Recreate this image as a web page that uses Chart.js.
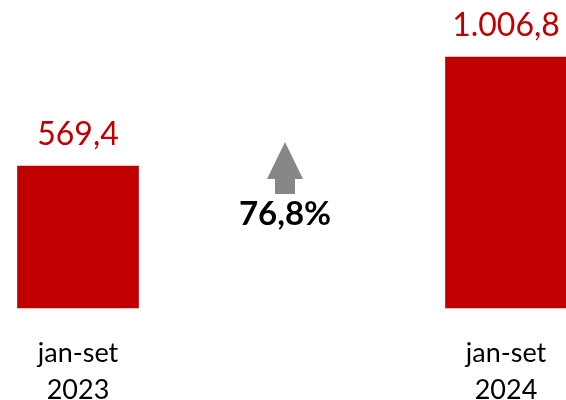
<!DOCTYPE html>
<html><head><meta charset="utf-8">
<script src="https://cdn.jsdelivr.net/npm/chart.js@4.4.1/dist/chart.umd.min.js"></script>
<style>html,body{margin:0;padding:0;background:#fff}#wrap{width:566px;height:400px}</style>
</head><body><div id="wrap"><canvas id="c" width="566" height="400"></canvas></div>
<script>
const categories = [["jan-set", "2023"], ["jan-set", "2024"]];
const values = [569.4, 1006.8];
const valueLabels = ["569,4", "1.006,8"];
const changeLabel = "76,8%";

const RED = "#C00000";

const annotations = {
  id: "annotations",
  afterDatasetsDraw(chart) {
    const ctx = chart.ctx;
    const meta = chart.getDatasetMeta(0);
    ctx.save();
    ctx.fillStyle = RED;
    ctx.font = "32px Lato";
    ctx.textAlign = "center";
    ctx.textBaseline = "alphabetic";
    meta.data.forEach((bar, i) => {
      ctx.fillText(valueLabels[i], bar.x, bar.y - 21);
    });
    // growth arrow between the bars
    const cx = (meta.data[0].x + meta.data[1].x) / 2 - 7;
    const tip = 142, headBase = 179, shaftBottom = 194, headHalf = 18, shaftHalf = 10;
    ctx.fillStyle = "#878787";
    ctx.beginPath();
    ctx.moveTo(cx, tip);
    ctx.lineTo(cx + headHalf, headBase);
    ctx.lineTo(cx + shaftHalf, headBase);
    ctx.lineTo(cx + shaftHalf, shaftBottom);
    ctx.lineTo(cx - shaftHalf, shaftBottom);
    ctx.lineTo(cx - shaftHalf, headBase);
    ctx.lineTo(cx - headHalf, headBase);
    ctx.closePath();
    ctx.fill();
    ctx.fillStyle = "#000";
    ctx.font = "bold 33px Lato";
    ctx.fillText(changeLabel, cx, 225);
    ctx.restore();
  }
};

new Chart(document.getElementById("c"), {
  type: "bar",
  data: {
    labels: categories,
    datasets: [{
      data: values,
      backgroundColor: RED,
      borderWidth: 0,
      barThickness: 121,
      clip: false
    }]
  },
  options: {
    responsive: false,
    animation: false,
    layout: { padding: { left: 78, right: 60, top: 9, bottom: 0 } },
    plugins: { legend: { display: false }, tooltip: { enabled: false } },
    scales: {
      x: {
        offset: false,
        grid: { display: false, drawTicks: false },
        border: { display: false },
        afterFit: (scale) => {
          scale.height = 92;
          scale.paddingLeft = 0;
          scale.paddingRight = 0;
        },
        ticks: {
          color: "#000",
          padding: 27,
          autoSkip: false,
          maxRotation: 0,
          font: { family: "Lato", size: 27, lineHeight: "37px" }
        }
      },
      y: {
        display: false,
        min: 0,
        max: 1200
      }
    }
  },
  plugins: [annotations]
});
</script></body></html>
